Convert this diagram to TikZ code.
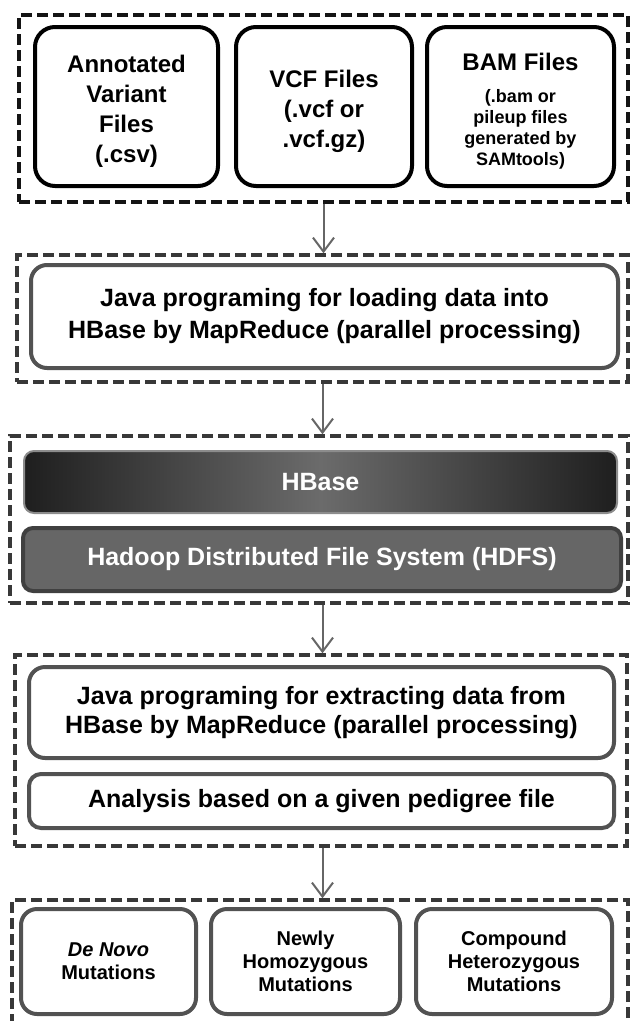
\documentclass[tikz,border=0pt]{standalone}
\usepackage{fontspec}
\setmainfont{Liberation Sans}
\usetikzlibrary{arrows.meta}

\newcommand{\topstrut}{\rule{0pt}{27pt}}

\begin{document}
\begin{tikzpicture}[x=1pt,y=-1pt,
        group/.style={draw=black!78,line width=3.5pt,dash pattern=on 11pt off 5pt,inner sep=0pt},
        filebox/.style={draw=black,line width=4pt,rounded corners=20pt,fill=white,align=center,
            font=\bfseries\fontsize{24}{30}\selectfont},
        stepbox/.style={draw=black!68,line width=4pt,rounded corners=16pt,fill=white,align=center,
            font=\bfseries\fontsize{25}{32}\selectfont},
        mutbox/.style={stepbox,font=\bfseries\fontsize{20}{23}\selectfont},
        flow/.style={draw=black!60,line width=2pt,-{Straight Barb[length=14pt,width=21pt]}}]
    \useasboundingbox (0,0) rectangle (630,1021);
    % dashed groups
    \node[group,draw=black!92,minimum width=609,minimum height=187] (g1) at (323.5,108.5) {};
    \node[group,minimum width=611,minimum height=127] (g2) at (322.5,318.5) {};
    \node[group,minimum width=618,minimum height=167] (g3) at (319,519.5) {};
    \node[group,minimum width=612,minimum height=191] (g4) at (321,750.5) {};
    \node[group,minimum width=616,minimum height=126] (g5) at (320,963) {};
    % input files
    \node[filebox,minimum width=183,minimum height=159] (csv) at (126.5,106.5) {\topstrut Annotated\\Variant\\Files\\(.csv)};
    \node[filebox,minimum width=176,minimum height=159] (vcf) at (324,106.5) {\topstrut VCF Files\\(.vcf or\\.vcf.gz)};
    \node[filebox,minimum width=187,minimum height=159] (bam) at (520.5,106.5)
        {\topstrut BAM Files\\[2pt]{\fontsize{18}{20}\selectfont(.bam or}\\[-9pt]{\fontsize{18}{20}\selectfont pileup files}\\[-9pt]
         {\fontsize{18}{20}\selectfont generated by}\\[-9pt]{\fontsize{18}{20}\selectfont SAMtools)}};
    % loading
    \node[stepbox,minimum width=587,minimum height=103] (load) at (324.5,316.5)
        {Java programing for loading data into\\HBase by MapReduce (parallel processing)};
    % storage
    \node[draw=black!45,line width=2pt,rounded corners=10pt,left color=black!88,right color=black!88,middle color=black!58,
        minimum width=593,minimum height=62,text=white,font=\bfseries\fontsize{25}{30}\selectfont] (hbase) at (320.5,482) {HBase};
    \node[draw=black!75,line width=4pt,rounded corners=10pt,fill=black!60,
        minimum width=598,minimum height=63,text=white,font=\bfseries\fontsize{25}{30}\selectfont] (hdfs) at (322,559.5)
        {Hadoop Distributed File System (HDFS)};
    % extracting
    \node[stepbox,minimum width=585,minimum height=91,font=\bfseries\fontsize{25}{29}\selectfont] (extract) at (321.5,712.5)
        {Java programing for extracting data from\\HBase by MapReduce (parallel processing)};
    \node[stepbox,minimum width=585,minimum height=54,rounded corners=12pt] (pedigree) at (321.5,801)
        {Analysis based on a given pedigree file};
    % results
    \node[mutbox,minimum width=175,minimum height=105] (denovo) at (108.5,961.5) {\textit{De Novo}\\Mutations};
    \node[mutbox,minimum width=189,minimum height=105] (homo) at (305.5,961.5) {Newly\\Homozygous\\Mutations};
    \node[mutbox,minimum width=196,minimum height=105] (hetero) at (514,961.5) {Compound\\Heterozygous\\Mutations};
    % arrows
    \draw[flow] (g1.south) -- (g1.south |- g2.north);
    \draw[flow] (g2.south) -- (g2.south |- g3.north);
    \draw[flow] (g3.south -| g2.south) -- (g2.south |- g4.north);
    \draw[flow] (g4.south -| g2.south) -- (g2.south |- g5.north);
\end{tikzpicture}
\end{document}
